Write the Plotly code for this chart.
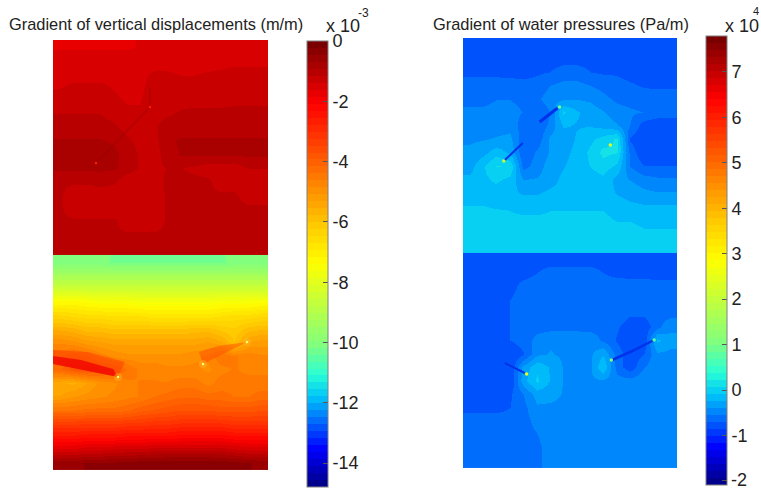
import numpy as np
import plotly.graph_objects as go

# model position of the cell centres inside each half (both halves are 215 x 215 units)
cell_centres = [6.7, 20.2, 33.6, 47.0, 60.5, 73.9, 87.3, 100.8, 114.2, 127.7, 141.1, 154.5, 168.0, 181.4, 194.8, 208.3]
lower_centres = [215 + c for c in cell_centres]

# Gradient of vertical displacements (x 1e-3 m/m), upper half
vert_upper = [
 [-1.65,-1.65,-1.65,-1.65,-1.65,-1.65,-1.6,-1.55,-1.5,-1.5,-1.5,-1.5,-1.5,-1.5,-1.5,-1.5],
 [-1.5,-1.5,-1.5,-1.5,-1.5,-1.5,-1.5,-1.5,-1.5,-1.5,-1.55,-1.55,-1.55,-1.5,-1.5,-1.5],
 [-1.45,-1.45,-1.45,-1.45,-1.45,-1.45,-1.45,-1.35,-1.35,-1.4,-1.4,-1.35,-1.3,-1.25,-1.25,-1.25],
 [-1.4,-1.35,-1.35,-1.35,-1.4,-1.45,-1.45,-1.25,-1.25,-1.25,-1.25,-1.25,-1.25,-1.25,-1.25,-1.25],
 [-1.25,-1.25,-1.25,-1.3,-1.35,-1.4,-1.4,-1.2,-1.25,-1.25,-1.25,-1.25,-1.25,-1.25,-1.25,-1.25],
 [-1.15,-1.15,-1.15,-1.15,-1.25,-1.35,-1.35,-1.25,-1.2,-1.1,-1.05,-1.05,-1.05,-1.0,-1.0,-1.0],
 [-1.05,-1.05,-1.05,-1.05,-1.1,-1.25,-1.3,-1.2,-1.0,-1.0,-1.0,-1.0,-1.0,-1.0,-1.0,-1.0],
 [-0.9,-0.9,-0.9,-0.9,-0.95,-1.1,-1.25,-1.25,-0.95,-0.9,-0.9,-0.9,-0.9,-0.9,-0.9,-0.9],
 [-0.88,-0.88,-0.88,-0.88,-0.88,-1.0,-1.2,-1.25,-1.05,-0.9,-0.88,-0.88,-0.88,-0.88,-0.88,-0.88],
 [-0.88,-0.88,-0.88,-0.88,-0.9,-1.0,-1.2,-1.2,-1.15,-1.15,-1.2,-1.3,-1.3,-1.3,-1.15,-1.15],
 [-1.1,-1.1,-1.1,-1.05,-1.1,-1.35,-1.35,-1.3,-1.1,-1.1,-1.1,-1.1,-1.35,-1.35,-1.35,-1.35],
 [-1.1,-1.35,-1.35,-1.3,-1.35,-1.35,-1.35,-1.35,-1.1,-1.1,-1.1,-1.1,-1.1,-1.1,-1.3,-1.3],
 [-1.1,-1.35,-1.35,-1.35,-1.35,-1.35,-1.35,-1.35,-1.1,-1.1,-1.1,-1.1,-1.1,-1.1,-1.1,-1.1],
 [-1.1,-1.1,-1.1,-1.1,-1.1,-1.35,-1.35,-1.35,-1.1,-1.1,-1.1,-1.1,-1.1,-1.1,-1.1,-1.1],
 [-1.1,-1.1,-1.1,-1.1,-1.1,-1.1,-1.1,-1.1,-1.1,-1.1,-1.1,-1.1,-1.1,-1.1,-1.1,-1.1],
 [-1.1,-1.1,-1.1,-1.1,-1.1,-1.1,-1.1,-1.1,-1.1,-1.1,-1.1,-1.1,-1.1,-1.1,-1.1,-1.1],
]

# Gradient of vertical displacements, lower half
vert_lower = [
 [-10.1,-10.1,-10.1,-10.1,-10.2,-10.2,-10.2,-10.2,-10.2,-10.2,-10.2,-10.2,-10.2,-10.1,-10.1,-10.1],
 [-9.3,-9.3,-9.3,-9.3,-9.3,-9.3,-9.3,-9.3,-9.3,-9.3,-9.3,-9.3,-9.3,-9.3,-9.3,-9.3],
 [-8.4,-8.4,-8.4,-8.4,-8.4,-8.4,-8.4,-8.4,-8.4,-8.4,-8.4,-8.4,-8.4,-8.4,-8.4,-8.4],
 [-7.3,-7.3,-7.4,-7.5,-7.5,-7.5,-7.6,-7.6,-7.6,-7.6,-7.6,-7.6,-7.5,-7.5,-7.5,-7.4],
 [-6.4,-6.5,-6.6,-6.6,-6.7,-6.7,-6.7,-6.8,-6.8,-6.8,-6.8,-6.8,-6.7,-6.6,-6.6,-6.5],
 [-5.6,-5.7,-5.9,-5.9,-6.0,-6.0,-6.0,-6.0,-6.0,-6.0,-5.9,-5.9,-6.1,-6.2,-5.9,-5.8],
 [-4.9,-5.0,-5.2,-5.3,-5.4,-5.4,-5.4,-5.4,-5.4,-5.4,-5.4,-5.3,-5.5,-6.0,-5.3,-5.2],
 [-4.4,-4.2,-4.4,-4.7,-4.9,-5.0,-5.0,-5.0,-5.0,-5.0,-4.9,-4.8,-4.4,-4.6,-4.7,-4.8],
 [-4.2,-3.8,-3.7,-3.9,-4.1,-4.4,-4.7,-4.7,-4.8,-4.8,-4.8,-4.9,-4.7,-4.6,-4.7,-4.7],
 [-5.5,-5.6,-5.3,-5.0,-4.9,-4.7,-4.6,-4.6,-4.6,-4.5,-4.5,-4.7,-4.5,-4.5,-4.5,-4.5],
 [-5.3,-5.1,-5.0,-4.9,-4.8,-4.7,-4.6,-4.4,-4.3,-4.2,-4.2,-4.3,-4.3,-4.4,-4.4,-4.3],
 [-4.4,-4.4,-4.3,-4.3,-4.3,-4.2,-4.0,-3.9,-3.8,-3.7,-3.7,-3.7,-3.8,-3.8,-3.8,-3.7],
 [-3.3,-3.3,-3.3,-3.3,-3.3,-3.2,-3.2,-3.1,-3.1,-3.0,-3.0,-3.0,-3.0,-3.1,-3.1,-3.1],
 [-2.5,-2.5,-2.4,-2.4,-2.4,-2.3,-2.3,-2.3,-2.3,-2.2,-2.2,-2.2,-2.2,-2.3,-2.3,-2.3],
 [-1.5,-1.5,-1.4,-1.4,-1.3,-1.3,-1.3,-1.2,-1.2,-1.2,-1.2,-1.2,-1.2,-1.3,-1.4,-1.4],
 [-0.5,-0.5,-0.45,-0.4,-0.4,-0.35,-0.3,-0.3,-0.25,-0.25,-0.25,-0.25,-0.3,-0.35,-0.45,-0.5],
]

# Gradient of water pressures (x 1e4 Pa/m), upper half
water_upper = [
 [-0.85,-0.85,-0.85,-0.85,-0.85,-0.85,-0.85,-0.85,-0.85,-0.85,-0.85,-0.85,-0.85,-0.85,-0.85,-0.85],
 [-0.8,-0.8,-0.8,-0.8,-0.8,-0.8,-0.75,-0.75,-0.75,-0.75,-0.78,-0.78,-0.8,-0.8,-0.8,-0.8],
 [-0.76,-0.76,-0.76,-0.76,-0.76,-0.72,-0.7,-0.65,-0.65,-0.7,-0.72,-0.72,-0.76,-0.76,-0.76,-0.76],
 [-0.6,-0.6,-0.6,-0.62,-0.65,-0.65,-0.55,-0.5,-0.5,-0.55,-0.6,-0.65,-0.68,-0.72,-0.72,-0.72],
 [-0.58,-0.58,-0.55,-0.55,-0.58,-0.58,-0.45,-0.42,-0.4,-0.42,-0.5,-0.58,-0.6,-0.62,-0.65,-0.65],
 [-0.52,-0.52,-0.5,-0.5,-0.55,-0.7,-0.55,-0.05,-0.22,-0.3,-0.38,-0.48,-0.52,-0.55,-0.6,-0.62],
 [-0.48,-0.48,-0.45,-0.45,-0.62,-0.7,-0.5,-0.22,-0.25,-0.25,-0.3,-0.38,-0.55,-0.78,-0.82,-0.82],
 [-0.42,-0.4,-0.38,-0.35,-0.65,-0.65,-0.35,-0.32,-0.22,-0.12,-0.02,0.1,-0.72,-0.85,-0.85,-0.85],
 [-0.35,-0.3,-0.15,-0.28,-0.68,-0.52,-0.38,-0.3,-0.18,-0.05,0.12,0.08,-0.6,-0.85,-0.85,-0.85],
 [-0.3,-0.1,0.08,0.05,-0.6,-0.48,-0.3,-0.25,-0.15,-0.08,0.0,-0.12,-0.55,-0.7,-0.7,-0.7],
 [-0.2,-0.12,-0.05,-0.12,-0.4,-0.38,-0.3,-0.2,-0.15,-0.15,-0.12,-0.3,-0.4,-0.48,-0.52,-0.52],
 [-0.15,-0.15,-0.15,-0.2,-0.25,-0.25,-0.2,-0.2,-0.15,-0.15,-0.15,-0.25,-0.3,-0.35,-0.38,-0.38],
 [-0.08,-0.08,-0.1,-0.1,-0.15,-0.15,-0.1,-0.1,-0.1,-0.1,-0.1,-0.15,-0.2,-0.22,-0.22,-0.22],
 [-0.02,-0.02,-0.02,-0.05,-0.05,-0.05,-0.05,-0.05,-0.05,-0.05,-0.05,-0.1,-0.1,-0.15,-0.15,-0.15],
 [0.0,0.0,0.0,0.0,0.0,0.0,0.0,0.0,0.0,0.0,0.0,0.0,0.0,-0.05,-0.05,-0.05],
 [0.05,0.05,0.05,0.05,0.05,0.05,0.05,0.05,0.05,0.05,0.05,0.02,0.02,0.02,0.02,0.02],
]

# Gradient of water pressures, lower half
water_lower = [
 [-0.75,-0.75,-0.75,-0.75,-0.75,-0.75,-0.75,-0.75,-0.75,-0.75,-0.75,-0.75,-0.75,-0.75,-0.75,-0.75],
 [-0.75,-0.75,-0.75,-0.75,-0.75,-0.7,-0.65,-0.65,-0.65,-0.65,-0.7,-0.75,-0.75,-0.75,-0.75,-0.75],
 [-0.75,-0.75,-0.75,-0.75,-0.65,-0.62,-0.6,-0.6,-0.6,-0.6,-0.6,-0.6,-0.62,-0.62,-0.65,-0.65],
 [-0.75,-0.75,-0.75,-0.7,-0.62,-0.6,-0.6,-0.6,-0.6,-0.6,-0.6,-0.6,-0.6,-0.6,-0.6,-0.6],
 [-0.75,-0.75,-0.75,-0.7,-0.62,-0.6,-0.6,-0.6,-0.6,-0.6,-0.6,-0.6,-0.68,-0.68,-0.6,-0.6],
 [-0.75,-0.75,-0.75,-0.7,-0.62,-0.6,-0.6,-0.6,-0.6,-0.6,-0.6,-0.68,-0.8,-0.8,-0.6,-0.42],
 [-0.75,-0.75,-0.75,-0.7,-0.62,-0.5,-0.42,-0.42,-0.42,-0.45,-0.58,-0.72,-0.82,-0.8,-0.2,-0.35],
 [-0.85,-0.85,-0.85,-0.85,-0.72,-0.42,-0.38,-0.42,-0.42,-0.42,-0.25,-0.62,-0.8,-0.7,-0.42,-0.42],
 [-0.85,-0.85,-0.85,-0.85,-0.35,-0.12,-0.25,-0.4,-0.42,-0.42,-0.1,-0.62,-0.8,-0.55,-0.42,-0.42],
 [-0.85,-0.85,-0.85,-0.85,-0.3,-0.05,-0.25,-0.4,-0.42,-0.42,-0.42,-0.48,-0.48,-0.42,-0.42,-0.42],
 [-0.75,-0.75,-0.75,-0.72,-0.55,-0.32,-0.35,-0.4,-0.42,-0.42,-0.42,-0.42,-0.48,-0.42,-0.42,-0.42],
 [-0.75,-0.75,-0.75,-0.7,-0.6,-0.42,-0.42,-0.42,-0.42,-0.42,-0.42,-0.48,-0.45,-0.45,-0.45,-0.45],
 [-0.62,-0.62,-0.62,-0.62,-0.6,-0.5,-0.42,-0.42,-0.42,-0.42,-0.42,-0.42,-0.42,-0.42,-0.42,-0.42],
 [-0.62,-0.62,-0.62,-0.62,-0.6,-0.55,-0.42,-0.42,-0.42,-0.42,-0.42,-0.42,-0.42,-0.42,-0.42,-0.42],
 [-0.62,-0.62,-0.62,-0.62,-0.62,-0.6,-0.45,-0.42,-0.42,-0.42,-0.42,-0.42,-0.42,-0.42,-0.42,-0.42],
 [-0.62,-0.62,-0.62,-0.62,-0.62,-0.6,-0.45,-0.42,-0.42,-0.42,-0.42,-0.42,-0.42,-0.42,-0.42,-0.42],
]

# fracture traces and singular points (model units)
vert_red_wedge_x = [0, 35, 72, 65, 0]
vert_red_wedge_y = [310, 312, 322, 337, 324]
vert_core_wedge_x = [0, 28, 60, 65, 0]
vert_core_wedge_y = [316, 320, 329, 337, 324]
vert_right_wedge_x = [150, 146, 165, 194, 150]
vert_right_wedge_y = [324, 312, 306, 302, 324]
vert_bright_x = [65, 150, 194]
vert_bright_y = [337, 324, 302]
vert_fault_x = [43, 97, 97]
vert_fault_y = [123, 67, 48]
vert_red_x = [97, 43]
vert_red_y = [67, 123]
water_upper_fault_a_x = [41, 60]
water_upper_fault_a_y = [123, 105]
water_upper_fault_b_x = [77, 95]
water_upper_fault_b_y = [84, 70]
water_lower_fault_x = [150, 170, 192]
water_lower_fault_y = [322, 313, 302]
water_left_fault_x = [42, 62]
water_left_fault_y = [325, 335]
water_hot_x = [41, 148, 97, 64, 149, 192]
water_hot_y = [123, 107, 69, 336, 322, 302]
water_hot_v = [2.0, 2.4, 0.9, 2.6, 1.0, 0.8]

vert_ticks = [0, -2, -4, -6, -8, -10, -12, -14]
vert_labels = ["0", "-2", "-4", "-6", "-8", "-10", "-12", "-14"]
water_ticks = [7, 6, 5, 4, 3, 2, 1, 0, -1, -2]
water_labels = ["7", "6", "5", "4", "3", "2", "1", "0", "-1", ""]

V_MIN, V_MAX = -14.79, 0.0
W_MIN, W_MAX = -2.09, 7.79

W, H = 761, 488
FONT = "Liberation Sans"

stops = [0, .083, .2, .25, .32, .5, .59, .71, .86, 1]
reds = [0, 0, 0, 40, 130, 255, 255, 255, 255, 115]
greens = [0, 0, 195, 255, 255, 255, 200, 110, 0, 0]
blues = [130, 255, 250, 215, 125, 0, 0, 0, 0, 0]
LEVELS = 64
scale = []
for k in range(LEVELS):
    f = (k + .5) / LEVELS
    c = "rgb(%d,%d,%d)" % (np.interp(f, stops, reds), np.interp(f, stops, greens), np.interp(f, stops, blues))
    scale += [[k / LEVELS, c], [(k + 1) / LEVELS, c]]


def cbar(x, top, bottom, tv, tt):
    return dict(
        x=x / W, xanchor="left", y=1 - bottom / H, yanchor="bottom",
        lenmode="pixels", len=bottom - top, thicknessmode="pixels", thickness=21,
        tickmode="array", tickvals=tv, ticktext=tt, ticks="inside", ticklen=5,
        tickcolor="#555555", outlinecolor="#808080", outlinewidth=1, xpad=0, ypad=0,
        tickfont=dict(family=FONT, size=18, color="#222222"), bgcolor="rgba(0,0,0,0)",
    )


fig = go.Figure()


def heat(z, y, ax, zmin, zmax, bar=None):
    fig.add_trace(go.Heatmap(
        z=z, x=cell_centres, y=y, xaxis="x" + ax, yaxis="y" + ax, zmin=zmin, zmax=zmax,
        colorscale=scale, zsmooth="best", showscale=bar is not None, colorbar=bar, hoverinfo="skip"))


heat(vert_upper, cell_centres, "", V_MIN, V_MAX, cbar(307, 41, 487, vert_ticks, vert_labels))
heat(vert_lower, lower_centres, "", V_MIN, V_MAX)
heat(water_upper, cell_centres, "2", W_MIN, W_MAX, cbar(706, 36, 485, water_ticks, water_labels))
heat(water_lower, lower_centres, "2", W_MIN, W_MAX)


def poly(x, y, color):
    fig.add_trace(go.Scatter(x=x, y=y, mode="lines", fill="toself", fillcolor=color,
                             line=dict(width=0), showlegend=False, hoverinfo="skip"))


def line(x, y, color, width, ax=""):
    fig.add_trace(go.Scatter(x=x, y=y, xaxis="x" + ax, yaxis="y" + ax, mode="lines",
                             line=dict(color=color, width=width), showlegend=False, hoverinfo="skip"))


def dots(x, y, color, size, ax="", opacity=1.0):
    fig.add_trace(go.Scatter(x=x, y=y, xaxis="x" + ax, yaxis="y" + ax, mode="markers", opacity=opacity,
                             marker=dict(color=color, size=size, line=dict(width=0)),
                             showlegend=False, hoverinfo="skip"))


poly(vert_red_wedge_x, vert_red_wedge_y, "rgba(255,50,0,0.45)")
poly(vert_core_wedge_x, vert_core_wedge_y, "rgba(240,0,0,0.75)")
poly(vert_right_wedge_x, vert_right_wedge_y, "rgba(255,60,0,0.4)")
dots(vert_bright_x, vert_bright_y, "rgb(255,190,40)", 8, opacity=0.4)
dots(vert_bright_x, vert_bright_y, "rgb(255,255,120)", 2.5)
line(vert_fault_x, vert_fault_y, "rgba(150,0,0,0.3)", 2)
dots(vert_red_x, vert_red_y, "rgb(255,30,0)", 2.5)

line(water_upper_fault_a_x, water_upper_fault_a_y, "rgb(0,50,235)", 2, "2")
line(water_upper_fault_b_x, water_upper_fault_b_y, "rgb(0,50,235)", 3, "2")
line(water_lower_fault_x, water_lower_fault_y, "rgb(0,50,235)", 2.5, "2")
line(water_left_fault_x, water_left_fault_y, "rgb(0,50,235)", 2, "2")
fig.add_trace(go.Scatter(x=water_hot_x, y=water_hot_y, xaxis="x2", yaxis="y2", mode="markers",
                         marker=dict(color=water_hot_v, colorscale=scale, cmin=W_MIN, cmax=W_MAX, size=3.5, line=dict(width=0)),
                         showlegend=False, hoverinfo="skip"))

hidden = dict(showgrid=False, zeroline=False, showticklabels=False, ticks="", showline=False)
fig.update_layout(
    width=W, height=H, margin=dict(l=0, r=0, t=0, b=0), paper_bgcolor="white", plot_bgcolor="white",
    showlegend=False,
    xaxis=dict(domain=[53 / W, 268 / W], range=[0, 215], **hidden),
    yaxis=dict(domain=[1 - 470 / H, 1 - 40 / H], range=[430, 0], **hidden),
    xaxis2=dict(domain=[463 / W, 677 / W], range=[0, 215], **hidden),
    yaxis2=dict(domain=[1 - 468 / H, 1 - 38 / H], range=[430, 0], **hidden),
)


def label(x, y, text, size, anchor="left"):
    fig.add_annotation(x=x / W, y=1 - y / H, xref="paper", yref="paper", text=text, showarrow=False,
                       xanchor=anchor, yanchor="middle", font=dict(family=FONT, size=size, color="#222222"),
                       borderpad=0, borderwidth=0)


label(9, 24, "Gradient of vertical displacements (m/m)", 16.4)
label(433, 24, "Gradient of water pressures (Pa/m)", 16.4)
label(326, 26, "x 10", 18)
label(358, 13, "-3", 12)
label(725, 26, "x 10", 18)
label(753, 11, "4", 11)
label(731, 480, "-2", 18)

fig.write_html("out.html", config=dict(displayModeBar=False),
               post_script="document.body.style.margin='0';document.documentElement.style.overflow='hidden';")
